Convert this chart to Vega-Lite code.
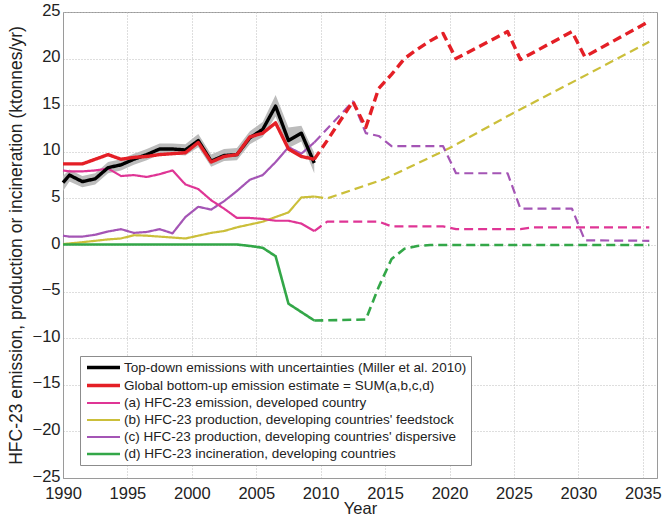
{
  "$schema": "https://vega.github.io/schema/vega-lite/v6.json",
  "width": 594,
  "height": 466,
  "autosize": "none",
  "padding": {"left": 63, "top": 12, "right": 12, "bottom": 39},
  "background": "white",
  "config": {
    "font": "Liberation Sans",
    "view": {"stroke": "#9a9a9a", "strokeWidth": 1},
    "axis": {
      "gridDash": [1, 2],
      "gridColor": "#bdbdbd",
      "gridWidth": 1,
      "domainColor": "#9a9a9a",
      "ticks": false,
      "tickSize": 0,
      "labelFontSize": 16.5,
      "labelColor": "#222222",
      "titleFontSize": 16.5,
      "titleFontWeight": "normal",
      "titleColor": "#222222"
    }
  },
  "datasets": {
    "band": [
      {"year": 1990, "lo": 5.8, "hi": 7.4},
      {"year": 1990.5, "lo": 6.8, "hi": 8.1},
      {"year": 1991.5, "lo": 6.2, "hi": 7.4},
      {"year": 1992.5, "lo": 6.5, "hi": 7.7},
      {"year": 1993.5, "lo": 7.7, "hi": 8.9},
      {"year": 1994.5, "lo": 8.0, "hi": 9.2},
      {"year": 1995.5, "lo": 8.6, "hi": 9.8},
      {"year": 1996.5, "lo": 9.1, "hi": 10.3},
      {"year": 1997.5, "lo": 9.7, "hi": 10.9},
      {"year": 1998.5, "lo": 9.7, "hi": 10.9},
      {"year": 1999.5, "lo": 9.6, "hi": 10.8},
      {"year": 2000.5, "lo": 10.5, "hi": 11.9},
      {"year": 2001.5, "lo": 8.4, "hi": 9.7},
      {"year": 2002.5, "lo": 9.0, "hi": 10.3},
      {"year": 2003.5, "lo": 9.1, "hi": 10.4},
      {"year": 2004.5, "lo": 10.8, "hi": 12.2},
      {"year": 2005.5, "lo": 11.6, "hi": 13.2},
      {"year": 2006.5, "lo": 13.8, "hi": 16.1},
      {"year": 2007.5, "lo": 10.4, "hi": 12.6},
      {"year": 2008.5, "lo": 11.1, "hi": 12.8},
      {"year": 2009.5, "lo": 7.7, "hi": 9.9}
    ],
    "lines": [
      {"series": "(b) HFC-23 production, developing countries' feedstock", "part": "h", "year": 1990, "value": 0.1},
      {"series": "(b) HFC-23 production, developing countries' feedstock", "part": "h", "year": 1991.5, "value": 0.3},
      {"series": "(b) HFC-23 production, developing countries' feedstock", "part": "h", "year": 1992.5, "value": 0.45},
      {"series": "(b) HFC-23 production, developing countries' feedstock", "part": "h", "year": 1993.5, "value": 0.6},
      {"series": "(b) HFC-23 production, developing countries' feedstock", "part": "h", "year": 1994.5, "value": 0.7},
      {"series": "(b) HFC-23 production, developing countries' feedstock", "part": "h", "year": 1995.5, "value": 1.05},
      {"series": "(b) HFC-23 production, developing countries' feedstock", "part": "h", "year": 1996.5, "value": 1.0},
      {"series": "(b) HFC-23 production, developing countries' feedstock", "part": "h", "year": 1997.5, "value": 0.9},
      {"series": "(b) HFC-23 production, developing countries' feedstock", "part": "h", "year": 1998.5, "value": 0.8},
      {"series": "(b) HFC-23 production, developing countries' feedstock", "part": "h", "year": 1999.5, "value": 0.7},
      {"series": "(b) HFC-23 production, developing countries' feedstock", "part": "h", "year": 2000.5, "value": 1.0},
      {"series": "(b) HFC-23 production, developing countries' feedstock", "part": "h", "year": 2001.5, "value": 1.3},
      {"series": "(b) HFC-23 production, developing countries' feedstock", "part": "h", "year": 2002.5, "value": 1.5},
      {"series": "(b) HFC-23 production, developing countries' feedstock", "part": "h", "year": 2003.5, "value": 1.9},
      {"series": "(b) HFC-23 production, developing countries' feedstock", "part": "h", "year": 2004.5, "value": 2.2},
      {"series": "(b) HFC-23 production, developing countries' feedstock", "part": "h", "year": 2005.5, "value": 2.5},
      {"series": "(b) HFC-23 production, developing countries' feedstock", "part": "h", "year": 2006.5, "value": 3.0},
      {"series": "(b) HFC-23 production, developing countries' feedstock", "part": "h", "year": 2007.5, "value": 3.5},
      {"series": "(b) HFC-23 production, developing countries' feedstock", "part": "h", "year": 2008.5, "value": 5.1},
      {"series": "(b) HFC-23 production, developing countries' feedstock", "part": "h", "year": 2009.5, "value": 5.2},
      {"series": "(b) HFC-23 production, developing countries' feedstock", "part": "f", "year": 2009.5, "value": 5.2},
      {"series": "(b) HFC-23 production, developing countries' feedstock", "part": "f", "year": 2010.5, "value": 5.0},
      {"series": "(b) HFC-23 production, developing countries' feedstock", "part": "f", "year": 2015, "value": 7.1},
      {"series": "(b) HFC-23 production, developing countries' feedstock", "part": "f", "year": 2020, "value": 10.4},
      {"series": "(b) HFC-23 production, developing countries' feedstock", "part": "f", "year": 2025, "value": 14.2},
      {"series": "(b) HFC-23 production, developing countries' feedstock", "part": "f", "year": 2030, "value": 17.8},
      {"series": "(b) HFC-23 production, developing countries' feedstock", "part": "f", "year": 2035.5, "value": 21.8},

      {"series": "(d) HFC-23 incineration, developing countries", "part": "h", "year": 1990, "value": 0.05},
      {"series": "(d) HFC-23 incineration, developing countries", "part": "h", "year": 2003.5, "value": 0.05},
      {"series": "(d) HFC-23 incineration, developing countries", "part": "h", "year": 2004.5, "value": -0.1},
      {"series": "(d) HFC-23 incineration, developing countries", "part": "h", "year": 2005.5, "value": -0.3},
      {"series": "(d) HFC-23 incineration, developing countries", "part": "h", "year": 2006.5, "value": -1.2},
      {"series": "(d) HFC-23 incineration, developing countries", "part": "h", "year": 2007.5, "value": -6.3},
      {"series": "(d) HFC-23 incineration, developing countries", "part": "h", "year": 2008.5, "value": -7.2},
      {"series": "(d) HFC-23 incineration, developing countries", "part": "h", "year": 2009.5, "value": -8.1},
      {"series": "(d) HFC-23 incineration, developing countries", "part": "f", "year": 2009.5, "value": -8.1},
      {"series": "(d) HFC-23 incineration, developing countries", "part": "f", "year": 2013.5, "value": -8.0},
      {"series": "(d) HFC-23 incineration, developing countries", "part": "f", "year": 2014.5, "value": -4.5},
      {"series": "(d) HFC-23 incineration, developing countries", "part": "f", "year": 2015.5, "value": -1.5},
      {"series": "(d) HFC-23 incineration, developing countries", "part": "f", "year": 2016.5, "value": -0.4},
      {"series": "(d) HFC-23 incineration, developing countries", "part": "f", "year": 2017.5, "value": -0.1},
      {"series": "(d) HFC-23 incineration, developing countries", "part": "f", "year": 2018.5, "value": 0.0},
      {"series": "(d) HFC-23 incineration, developing countries", "part": "f", "year": 2035.5, "value": 0.0},

      {"series": "(c) HFC-23 production, developing countries' dispersive", "part": "h", "year": 1990, "value": 1.0},
      {"series": "(c) HFC-23 production, developing countries' dispersive", "part": "h", "year": 1990.5, "value": 0.9},
      {"series": "(c) HFC-23 production, developing countries' dispersive", "part": "h", "year": 1991.5, "value": 0.9},
      {"series": "(c) HFC-23 production, developing countries' dispersive", "part": "h", "year": 1992.5, "value": 1.1},
      {"series": "(c) HFC-23 production, developing countries' dispersive", "part": "h", "year": 1993.5, "value": 1.45},
      {"series": "(c) HFC-23 production, developing countries' dispersive", "part": "h", "year": 1994.5, "value": 1.7},
      {"series": "(c) HFC-23 production, developing countries' dispersive", "part": "h", "year": 1995.5, "value": 1.3},
      {"series": "(c) HFC-23 production, developing countries' dispersive", "part": "h", "year": 1996.5, "value": 1.4},
      {"series": "(c) HFC-23 production, developing countries' dispersive", "part": "h", "year": 1997.5, "value": 1.7},
      {"series": "(c) HFC-23 production, developing countries' dispersive", "part": "h", "year": 1998.5, "value": 1.25},
      {"series": "(c) HFC-23 production, developing countries' dispersive", "part": "h", "year": 1999.5, "value": 3.0},
      {"series": "(c) HFC-23 production, developing countries' dispersive", "part": "h", "year": 2000.5, "value": 4.1},
      {"series": "(c) HFC-23 production, developing countries' dispersive", "part": "h", "year": 2001.5, "value": 3.8},
      {"series": "(c) HFC-23 production, developing countries' dispersive", "part": "h", "year": 2002.5, "value": 4.7},
      {"series": "(c) HFC-23 production, developing countries' dispersive", "part": "h", "year": 2003.5, "value": 5.8},
      {"series": "(c) HFC-23 production, developing countries' dispersive", "part": "h", "year": 2004.5, "value": 7.0},
      {"series": "(c) HFC-23 production, developing countries' dispersive", "part": "h", "year": 2005.5, "value": 7.5},
      {"series": "(c) HFC-23 production, developing countries' dispersive", "part": "h", "year": 2006.5, "value": 8.9},
      {"series": "(c) HFC-23 production, developing countries' dispersive", "part": "h", "year": 2007.5, "value": 10.5},
      {"series": "(c) HFC-23 production, developing countries' dispersive", "part": "h", "year": 2008.5, "value": 9.8},
      {"series": "(c) HFC-23 production, developing countries' dispersive", "part": "h", "year": 2009.5, "value": 11.0},
      {"series": "(c) HFC-23 production, developing countries' dispersive", "part": "f", "year": 2009.5, "value": 11.0},
      {"series": "(c) HFC-23 production, developing countries' dispersive", "part": "f", "year": 2011, "value": 13.2},
      {"series": "(c) HFC-23 production, developing countries' dispersive", "part": "f", "year": 2012.5, "value": 15.4},
      {"series": "(c) HFC-23 production, developing countries' dispersive", "part": "f", "year": 2013.5, "value": 12.0},
      {"series": "(c) HFC-23 production, developing countries' dispersive", "part": "f", "year": 2014.5, "value": 11.7},
      {"series": "(c) HFC-23 production, developing countries' dispersive", "part": "f", "year": 2015.5, "value": 10.6},
      {"series": "(c) HFC-23 production, developing countries' dispersive", "part": "f", "year": 2019.5, "value": 10.6},
      {"series": "(c) HFC-23 production, developing countries' dispersive", "part": "f", "year": 2020.5, "value": 7.7},
      {"series": "(c) HFC-23 production, developing countries' dispersive", "part": "f", "year": 2024.5, "value": 7.7},
      {"series": "(c) HFC-23 production, developing countries' dispersive", "part": "f", "year": 2025.5, "value": 3.9},
      {"series": "(c) HFC-23 production, developing countries' dispersive", "part": "f", "year": 2029.5, "value": 3.9},
      {"series": "(c) HFC-23 production, developing countries' dispersive", "part": "f", "year": 2030.5, "value": 0.5},
      {"series": "(c) HFC-23 production, developing countries' dispersive", "part": "f", "year": 2035.5, "value": 0.45},

      {"series": "(a) HFC-23 emission, developed country", "part": "h", "year": 1990, "value": 8.0},
      {"series": "(a) HFC-23 emission, developed country", "part": "h", "year": 1990.5, "value": 7.9},
      {"series": "(a) HFC-23 emission, developed country", "part": "h", "year": 1991.5, "value": 7.9},
      {"series": "(a) HFC-23 emission, developed country", "part": "h", "year": 1992.5, "value": 8.0},
      {"series": "(a) HFC-23 emission, developed country", "part": "h", "year": 1993.5, "value": 8.2},
      {"series": "(a) HFC-23 emission, developed country", "part": "h", "year": 1994.5, "value": 7.4},
      {"series": "(a) HFC-23 emission, developed country", "part": "h", "year": 1995.5, "value": 7.5},
      {"series": "(a) HFC-23 emission, developed country", "part": "h", "year": 1996.5, "value": 7.3},
      {"series": "(a) HFC-23 emission, developed country", "part": "h", "year": 1997.5, "value": 7.6},
      {"series": "(a) HFC-23 emission, developed country", "part": "h", "year": 1998.5, "value": 8.0},
      {"series": "(a) HFC-23 emission, developed country", "part": "h", "year": 1999.5, "value": 6.5},
      {"series": "(a) HFC-23 emission, developed country", "part": "h", "year": 2000.5, "value": 6.0},
      {"series": "(a) HFC-23 emission, developed country", "part": "h", "year": 2001.5, "value": 4.8},
      {"series": "(a) HFC-23 emission, developed country", "part": "h", "year": 2002.5, "value": 3.9},
      {"series": "(a) HFC-23 emission, developed country", "part": "h", "year": 2003.5, "value": 2.9},
      {"series": "(a) HFC-23 emission, developed country", "part": "h", "year": 2004.5, "value": 2.9},
      {"series": "(a) HFC-23 emission, developed country", "part": "h", "year": 2005.5, "value": 2.8},
      {"series": "(a) HFC-23 emission, developed country", "part": "h", "year": 2006.5, "value": 2.6},
      {"series": "(a) HFC-23 emission, developed country", "part": "h", "year": 2007.5, "value": 2.6},
      {"series": "(a) HFC-23 emission, developed country", "part": "h", "year": 2008.5, "value": 2.3},
      {"series": "(a) HFC-23 emission, developed country", "part": "h", "year": 2009.5, "value": 1.5},
      {"series": "(a) HFC-23 emission, developed country", "part": "f", "year": 2009.5, "value": 1.5},
      {"series": "(a) HFC-23 emission, developed country", "part": "f", "year": 2010.5, "value": 2.5},
      {"series": "(a) HFC-23 emission, developed country", "part": "f", "year": 2014.5, "value": 2.5},
      {"series": "(a) HFC-23 emission, developed country", "part": "f", "year": 2015.5, "value": 2.0},
      {"series": "(a) HFC-23 emission, developed country", "part": "f", "year": 2019.5, "value": 2.0},
      {"series": "(a) HFC-23 emission, developed country", "part": "f", "year": 2020.5, "value": 1.7},
      {"series": "(a) HFC-23 emission, developed country", "part": "f", "year": 2025.5, "value": 1.7},
      {"series": "(a) HFC-23 emission, developed country", "part": "f", "year": 2026.5, "value": 1.9},
      {"series": "(a) HFC-23 emission, developed country", "part": "f", "year": 2035.5, "value": 1.9},

      {"series": "Top-down emissions with uncertainties (Miller et al. 2010)", "part": "h", "year": 1990, "value": 6.7},
      {"series": "Top-down emissions with uncertainties (Miller et al. 2010)", "part": "h", "year": 1990.5, "value": 7.5},
      {"series": "Top-down emissions with uncertainties (Miller et al. 2010)", "part": "h", "year": 1991.5, "value": 6.8},
      {"series": "Top-down emissions with uncertainties (Miller et al. 2010)", "part": "h", "year": 1992.5, "value": 7.1},
      {"series": "Top-down emissions with uncertainties (Miller et al. 2010)", "part": "h", "year": 1993.5, "value": 8.3},
      {"series": "Top-down emissions with uncertainties (Miller et al. 2010)", "part": "h", "year": 1994.5, "value": 8.6},
      {"series": "Top-down emissions with uncertainties (Miller et al. 2010)", "part": "h", "year": 1995.5, "value": 9.2},
      {"series": "Top-down emissions with uncertainties (Miller et al. 2010)", "part": "h", "year": 1996.5, "value": 9.7},
      {"series": "Top-down emissions with uncertainties (Miller et al. 2010)", "part": "h", "year": 1997.5, "value": 10.3},
      {"series": "Top-down emissions with uncertainties (Miller et al. 2010)", "part": "h", "year": 1998.5, "value": 10.3},
      {"series": "Top-down emissions with uncertainties (Miller et al. 2010)", "part": "h", "year": 1999.5, "value": 10.2},
      {"series": "Top-down emissions with uncertainties (Miller et al. 2010)", "part": "h", "year": 2000.5, "value": 11.2},
      {"series": "Top-down emissions with uncertainties (Miller et al. 2010)", "part": "h", "year": 2001.5, "value": 9.0},
      {"series": "Top-down emissions with uncertainties (Miller et al. 2010)", "part": "h", "year": 2002.5, "value": 9.6},
      {"series": "Top-down emissions with uncertainties (Miller et al. 2010)", "part": "h", "year": 2003.5, "value": 9.7},
      {"series": "Top-down emissions with uncertainties (Miller et al. 2010)", "part": "h", "year": 2004.5, "value": 11.5},
      {"series": "Top-down emissions with uncertainties (Miller et al. 2010)", "part": "h", "year": 2005.5, "value": 12.4},
      {"series": "Top-down emissions with uncertainties (Miller et al. 2010)", "part": "h", "year": 2006.5, "value": 14.9},
      {"series": "Top-down emissions with uncertainties (Miller et al. 2010)", "part": "h", "year": 2007.5, "value": 11.2},
      {"series": "Top-down emissions with uncertainties (Miller et al. 2010)", "part": "h", "year": 2008.5, "value": 12.0},
      {"series": "Top-down emissions with uncertainties (Miller et al. 2010)", "part": "h", "year": 2009.5, "value": 8.8},

      {"series": "Global bottom-up emission estimate = SUM(a,b,c,d)", "part": "h", "year": 1990, "value": 8.7},
      {"series": "Global bottom-up emission estimate = SUM(a,b,c,d)", "part": "h", "year": 1991.5, "value": 8.7},
      {"series": "Global bottom-up emission estimate = SUM(a,b,c,d)", "part": "h", "year": 1992.5, "value": 9.2},
      {"series": "Global bottom-up emission estimate = SUM(a,b,c,d)", "part": "h", "year": 1993.5, "value": 9.7},
      {"series": "Global bottom-up emission estimate = SUM(a,b,c,d)", "part": "h", "year": 1994.5, "value": 9.2},
      {"series": "Global bottom-up emission estimate = SUM(a,b,c,d)", "part": "h", "year": 1995.5, "value": 9.4},
      {"series": "Global bottom-up emission estimate = SUM(a,b,c,d)", "part": "h", "year": 1996.5, "value": 9.5},
      {"series": "Global bottom-up emission estimate = SUM(a,b,c,d)", "part": "h", "year": 1997.5, "value": 9.7},
      {"series": "Global bottom-up emission estimate = SUM(a,b,c,d)", "part": "h", "year": 1998.5, "value": 9.8},
      {"series": "Global bottom-up emission estimate = SUM(a,b,c,d)", "part": "h", "year": 1999.5, "value": 9.9},
      {"series": "Global bottom-up emission estimate = SUM(a,b,c,d)", "part": "h", "year": 2000.5, "value": 11.0},
      {"series": "Global bottom-up emission estimate = SUM(a,b,c,d)", "part": "h", "year": 2001.5, "value": 8.9},
      {"series": "Global bottom-up emission estimate = SUM(a,b,c,d)", "part": "h", "year": 2002.5, "value": 9.5},
      {"series": "Global bottom-up emission estimate = SUM(a,b,c,d)", "part": "h", "year": 2003.5, "value": 9.7},
      {"series": "Global bottom-up emission estimate = SUM(a,b,c,d)", "part": "h", "year": 2004.5, "value": 11.6},
      {"series": "Global bottom-up emission estimate = SUM(a,b,c,d)", "part": "h", "year": 2005.5, "value": 12.0},
      {"series": "Global bottom-up emission estimate = SUM(a,b,c,d)", "part": "h", "year": 2006.5, "value": 13.1},
      {"series": "Global bottom-up emission estimate = SUM(a,b,c,d)", "part": "h", "year": 2007.5, "value": 10.3},
      {"series": "Global bottom-up emission estimate = SUM(a,b,c,d)", "part": "h", "year": 2008.5, "value": 9.5},
      {"series": "Global bottom-up emission estimate = SUM(a,b,c,d)", "part": "h", "year": 2009.5, "value": 9.2},
      {"series": "Global bottom-up emission estimate = SUM(a,b,c,d)", "part": "f", "year": 2009.5, "value": 9.2},
      {"series": "Global bottom-up emission estimate = SUM(a,b,c,d)", "part": "f", "year": 2010.5, "value": 11.2},
      {"series": "Global bottom-up emission estimate = SUM(a,b,c,d)", "part": "f", "year": 2011.5, "value": 13.3},
      {"series": "Global bottom-up emission estimate = SUM(a,b,c,d)", "part": "f", "year": 2012.5, "value": 15.4},
      {"series": "Global bottom-up emission estimate = SUM(a,b,c,d)", "part": "f", "year": 2013.5, "value": 12.6},
      {"series": "Global bottom-up emission estimate = SUM(a,b,c,d)", "part": "f", "year": 2014.5, "value": 16.8},
      {"series": "Global bottom-up emission estimate = SUM(a,b,c,d)", "part": "f", "year": 2015.5, "value": 18.3},
      {"series": "Global bottom-up emission estimate = SUM(a,b,c,d)", "part": "f", "year": 2016.5, "value": 20.0},
      {"series": "Global bottom-up emission estimate = SUM(a,b,c,d)", "part": "f", "year": 2017.5, "value": 21.0},
      {"series": "Global bottom-up emission estimate = SUM(a,b,c,d)", "part": "f", "year": 2018.5, "value": 21.9},
      {"series": "Global bottom-up emission estimate = SUM(a,b,c,d)", "part": "f", "year": 2019.5, "value": 22.7},
      {"series": "Global bottom-up emission estimate = SUM(a,b,c,d)", "part": "f", "year": 2020.5, "value": 20.0},
      {"series": "Global bottom-up emission estimate = SUM(a,b,c,d)", "part": "f", "year": 2024.5, "value": 22.9},
      {"series": "Global bottom-up emission estimate = SUM(a,b,c,d)", "part": "f", "year": 2025.5, "value": 19.9},
      {"series": "Global bottom-up emission estimate = SUM(a,b,c,d)", "part": "f", "year": 2029.5, "value": 22.9},
      {"series": "Global bottom-up emission estimate = SUM(a,b,c,d)", "part": "f", "year": 2030.5, "value": 20.2},
      {"series": "Global bottom-up emission estimate = SUM(a,b,c,d)", "part": "f", "year": 2035.5, "value": 24.0}
    ]
  },
  "layer": [
    {
      "data": {"name": "band"},
      "mark": {"type": "area", "color": "#bcbcbc"},
      "encoding": {
        "x": {"field": "year", "type": "quantitative", "scale": {"domain": [1990, 2036.1], "nice": false, "zero": false}},
        "y": {"field": "lo", "type": "quantitative", "scale": {"domain": [-25, 25], "nice": false, "zero": false}},
        "y2": {"field": "hi"}
      }
    },
    {
      "data": {"name": "lines"},
      "mark": {"type": "line", "strokeCap": "butt", "strokeJoin": "round"},
      "encoding": {
        "x": {
          "field": "year", "type": "quantitative",
          "scale": {"domain": [1990, 2036.1], "nice": false, "zero": false},
          "axis": {"title": "Year", "values": [1990, 1995, 2000, 2005, 2010, 2015, 2020, 2025, 2030, 2035], "format": "d", "labelPadding": 7, "titlePadding": -1, "labelFlush": false, "labelOverlap": false}
        },
        "y": {
          "field": "value", "type": "quantitative",
          "scale": {"domain": [-25, 25], "nice": false, "zero": false},
          "axis": {"title": "HFC-23 emission, production or incineration (ktonnes/yr)", "titleFontSize": 17.5, "values": [-25, -20, -15, -10, -5, 0, 5, 10, 15, 20, 25], "labelPadding": 3, "labelOffset": -2, "titlePadding": 7, "labelFlush": false, "labelOverlap": false}
        },
        "color": {
          "field": "series", "type": "nominal",
          "scale": {
            "domain": [
              "Top-down emissions with uncertainties (Miller et al. 2010)",
              "Global bottom-up emission estimate = SUM(a,b,c,d)",
              "(a) HFC-23 emission, developed country",
              "(b) HFC-23 production, developing countries' feedstock",
              "(c) HFC-23 production, developing countries' dispersive",
              "(d) HFC-23 incineration, developing countries"
            ],
            "range": ["#000000", "#e41f26", "#df3595", "#cbbf3a", "#a455b5", "#33a748"]
          },
          "legend": {
            "orient": "none", "legendX": 17, "legendY": 344, "title": null, "direction": "vertical",
            "symbolType": "M-3,0H3", "symbolSize": 121, "symbolStrokeWidth": 3, "symbolOffset": 12,
            "labelOffset": 13, "labelFontSize": 13.5, "labelLimit": 600, "labelColor": "#222222",
            "padding": 4, "rowPadding": 3, "strokeColor": "#8c8c8c", "fillColor": "#ffffff"
          }
        },
        "strokeWidth": {
          "field": "series", "type": "nominal",
          "scale": {
            "type": "ordinal",
            "domain": [
              "Top-down emissions with uncertainties (Miller et al. 2010)",
              "Global bottom-up emission estimate = SUM(a,b,c,d)",
              "(a) HFC-23 emission, developed country",
              "(b) HFC-23 production, developing countries' feedstock",
              "(c) HFC-23 production, developing countries' dispersive",
              "(d) HFC-23 incineration, developing countries"
            ],
            "range": [3.4, 3.4, 2.2, 2.2, 2.2, 2.6]
          },
          "legend": null
        },
        "strokeDash": {
          "field": "part", "type": "nominal",
          "scale": {"domain": ["h", "f"], "range": [[1, 0], [9, 5]]},
          "legend": null
        }
      }
    }
  ]
}
